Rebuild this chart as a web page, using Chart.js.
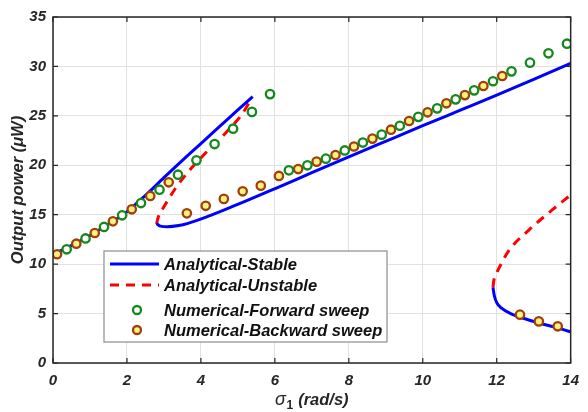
<!DOCTYPE html>
<html>
<head>
<meta charset="utf-8">
<script src="https://cdn.jsdelivr.net/npm/chart.js@4.4.1/dist/chart.umd.min.js"></script>
<style>
html,body{margin:0;padding:0;background:#fff;}
canvas{display:block;}
</style>
</head>
<body>
<canvas id="c" width="588" height="412"></canvas>
<script>
// ---- Data ----
const xTicks = [0, 2, 4, 6, 8, 10, 12, 14];
const yTicks = [0, 5, 10, 15, 20, 25, 30, 35];

// Analytical - stable branches
const stable1X = [0, 0.5, 1, 1.5, 2, 2.5, 3, 3.5, 4, 4.5, 5, 5.4];
const stable1Y = [11.0, 11.9, 12.9, 14.05, 15.3, 16.95, 18.75, 20.5, 22.2, 23.9, 25.6, 26.95];
const stable2X = [2.8, 2.9, 3.1, 3.4, 3.65, 4.2, 4.8, 5.16, 6.04, 7, 8, 9.24, 10, 11, 12, 13, 14];
const stable2Y = [14.1, 13.85, 13.78, 13.9, 14.13, 14.85, 15.75, 16.3, 17.7, 19.25, 20.85, 22.8, 24.0, 25.55, 27.1, 28.7, 30.3];
const stable3X = [11.9, 11.93, 12.0, 12.15, 12.35, 12.7, 13.14, 13.6, 14];
const stable3Y = [7.65, 6.9, 6.1, 5.5, 5.05, 4.55, 4.05, 3.6, 3.15];

// Analytical - unstable branches
const unstable1X = [2.8, 2.85, 3.0, 3.3, 3.65, 4.09, 4.5, 4.8, 5.1, 5.38];
const unstable1Y = [14.05, 14.8, 15.8, 17.6, 19.3, 21.1, 22.6, 23.8, 25.1, 26.8];
const unstable2X = [11.9, 11.92, 12.0, 12.08, 12.34, 12.87, 13.5, 14];
const unstable2Y = [7.65, 8.3, 9.1, 9.74, 11.43, 13.45, 15.48, 17.0];

// Numerical - forward sweep
const forwardX = [0.37, 0.88, 1.38, 1.87, 2.38, 2.88, 3.38, 3.88, 4.37, 4.87, 5.38, 5.87,
                  6.38, 6.88, 7.38, 7.89, 8.38, 8.89, 9.38, 9.88, 10.39, 10.89, 11.39, 11.9, 12.4, 12.9, 13.4, 13.9];
const forwardY = [11.5, 12.6, 13.76, 14.94, 16.18, 17.53, 19.05, 20.5, 22.15, 23.7, 25.4, 27.2,
                  19.49, 20.0, 20.67, 21.5, 22.3, 23.1, 24.0, 24.9, 25.76, 26.67, 27.58, 28.5, 29.5, 30.38, 31.33, 32.3];

// Numerical - backward sweep
const backwardX = [0.11, 0.63, 1.13, 1.62, 2.13, 2.63, 3.13, 3.62, 4.13, 4.62, 5.13, 5.62, 6.11, 6.63,
                   7.13, 7.64, 8.14, 8.64, 9.14, 9.63, 10.13, 10.64, 11.14, 11.64, 12.15, 12.63, 13.14, 13.65];
const backwardY = [11.0, 12.07, 13.15, 14.33, 15.55, 16.9, 18.28, 15.14, 15.9, 16.6, 17.37, 17.94, 18.92, 19.62,
                   20.37, 21.04, 21.9, 22.7, 23.6, 24.48, 25.36, 26.27, 27.1, 28.02, 29.03, 4.89, 4.21, 3.71];

const legendLabels = ['Analytical-Stable', 'Analytical-Unstable', 'Numerical-Forward sweep', 'Numerical-Backward sweep'];

// ---- Helpers ----
const zip = (xs, ys) => xs.map((x, i) => ({x: x, y: ys[i]}));
const BLUE = '#0000ff', RED = '#ff0000';
const GREEN = '#12891a', BROWN = '#9e3f0e', YELLOW = '#fff27c';
const FONT = '"Liberation Sans", Arial, sans-serif';
const TXT = '#262626';

function lineDs(xs, ys, color, dash) {
  return {data: zip(xs, ys), showLine: true, borderColor: color, borderWidth: 3,
          borderDash: dash || [], pointRadius: 0, cubicInterpolationMode: 'monotone', order: 2, fill: false};
}
function pointDs(xs, ys, border, bg) {
  return {data: zip(xs, ys), showLine: false, pointRadius: 4.2, pointBorderWidth: 2.3,
          pointBorderColor: border, pointBackgroundColor: bg, borderColor: border, backgroundColor: bg, order: 0};
}

const framePlugin = {
  id: 'frame',
  afterDraw(chart) {
    const ctx = chart.ctx, a = chart.chartArea;
    const xs = chart.scales.x, ys = chart.scales.y;
    ctx.save();
    // axes box
    ctx.strokeStyle = TXT; ctx.lineWidth = 1.5;
    ctx.strokeRect(a.left, a.top, a.right - a.left, a.bottom - a.top);
    // inward ticks
    ctx.lineWidth = 1.2;
    ctx.beginPath();
    xTicks.forEach(v => {
      const px = xs.getPixelForValue(v);
      ctx.moveTo(px, a.bottom); ctx.lineTo(px, a.bottom - 5);
      ctx.moveTo(px, a.top); ctx.lineTo(px, a.top + 5);
    });
    yTicks.forEach(v => {
      const py = ys.getPixelForValue(v);
      ctx.moveTo(a.left, py); ctx.lineTo(a.left + 5, py);
      ctx.moveTo(a.right, py); ctx.lineTo(a.right - 5, py);
    });
    ctx.stroke();

    // axis titles
    ctx.fillStyle = TXT;
    ctx.font = 'italic bold 16.5px ' + FONT;
    ctx.textAlign = 'center'; ctx.textBaseline = 'middle';
    ctx.save();
    ctx.translate(18, (a.top + a.bottom) / 2);
    ctx.rotate(-Math.PI / 2);
    ctx.fillText('Output power (\u03BCW)', 0, 0);
    ctx.restore();

    // x title with subscript
    const cx = (a.left + a.right) / 2, cy = 400;
    const p1 = '\u03C3', sub = '1', p2 = ' (rad/s)';
    ctx.font = 'italic 18px ' + FONT;
    const w1 = ctx.measureText(p1).width;
    ctx.font = 'bold 12px ' + FONT;
    const w2 = ctx.measureText(sub).width;
    ctx.font = 'italic bold 16.5px ' + FONT;
    const w3 = ctx.measureText(p2).width;
    let x0 = cx - (w1 + w2 + 1 + w3) / 2;
    ctx.textAlign = 'left';
    ctx.font = 'italic 18px ' + FONT;
    ctx.fillText(p1, x0, cy); x0 += w1;
    ctx.font = 'bold 12px ' + FONT;
    ctx.fillText(sub, x0 + 0.5, cy + 6); x0 += w2 + 1;
    ctx.font = 'italic bold 16.5px ' + FONT;
    ctx.fillText(p2, x0, cy);

    // legend
    const lx = 104, ly = 251, lw = 283, lh = 91;
    ctx.fillStyle = '#ffffff';
    ctx.fillRect(lx, ly, lw, lh);
    ctx.strokeStyle = '#8c8c8c'; ctx.lineWidth = 1.2;
    ctx.strokeRect(lx, ly, lw, lh);
    const rows = [264, 285, 310, 330];
    ctx.lineWidth = 3;
    ctx.strokeStyle = BLUE; ctx.setLineDash([]);
    ctx.beginPath(); ctx.moveTo(110, rows[0]); ctx.lineTo(159, rows[0]); ctx.stroke();
    ctx.strokeStyle = RED; ctx.setLineDash([9, 7]);
    ctx.beginPath(); ctx.moveTo(110, rows[1]); ctx.lineTo(159, rows[1]); ctx.stroke();
    ctx.setLineDash([]);
    ctx.lineWidth = 2.3;
    ctx.beginPath(); ctx.arc(137, rows[2], 4, 0, Math.PI * 2);
    ctx.fillStyle = '#ffffff'; ctx.fill(); ctx.strokeStyle = GREEN; ctx.stroke();
    ctx.beginPath(); ctx.arc(137, rows[3], 4, 0, Math.PI * 2);
    ctx.fillStyle = YELLOW; ctx.fill(); ctx.strokeStyle = BROWN; ctx.stroke();
    ctx.fillStyle = '#111';
    ctx.font = 'italic bold 16.5px ' + FONT;
    ctx.textAlign = 'left'; ctx.textBaseline = 'middle';
    legendLabels.forEach((t, i) => ctx.fillText(t, 164, rows[i] + 1));
    ctx.restore();
  }
};

const tickFont = {family: FONT, size: 15, style: 'italic', weight: 'bold'};

new Chart(document.getElementById('c'), {
  type: 'scatter',
  data: {
    datasets: [
      pointDs(forwardX, forwardY, GREEN, '#ffffff'),
      pointDs(backwardX, backwardY, BROWN, YELLOW),
      lineDs(stable1X, stable1Y, BLUE),
      lineDs(stable2X, stable2Y, BLUE),
      lineDs(stable3X, stable3Y, BLUE),
      lineDs(unstable1X, unstable1Y, RED, [9, 7]),
      lineDs(unstable2X, unstable2Y, RED, [9, 7])
    ]
  },
  options: {
    responsive: false,
    animation: false,
    devicePixelRatio: 1,
    layout: {padding: {left: 0, right: 9, top: 17, bottom: 0}},
    plugins: {legend: {display: false}, tooltip: {enabled: false}},
    scales: {
      x: {
        type: 'linear', min: 0, max: 14,
        afterBuildTicks: s => { s.ticks = xTicks.map(v => ({value: v})); },
        afterFit: s => { s.height = 49; },
        grid: {color: '#e2e2e2', lineWidth: 1, drawTicks: false},
        border: {display: false},
        ticks: {font: tickFont, color: TXT, padding: 9, maxRotation: 0}
      },
      y: {
        type: 'linear', min: 0, max: 35,
        afterBuildTicks: s => { s.ticks = yTicks.map(v => ({value: v})); },
        afterFit: s => { s.width = 53; },
        grid: {color: '#e2e2e2', lineWidth: 1, drawTicks: false},
        border: {display: false},
        ticks: {font: tickFont, color: TXT, padding: 7}
      }
    }
  },
  plugins: [framePlugin]
});
</script>
</body>
</html>
